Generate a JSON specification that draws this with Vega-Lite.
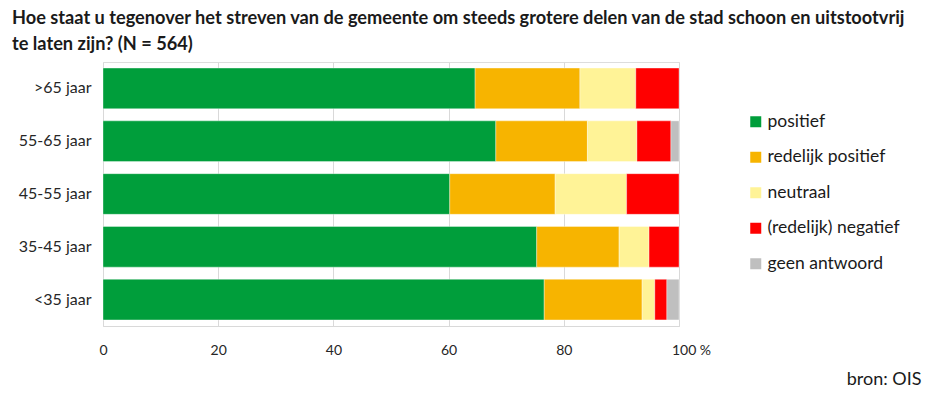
{
  "$schema": "https://vega.github.io/schema/vega-lite/v6.json",
  "width": 576,
  "height": 264,
  "autosize": {"type": "none"},
  "padding": {"left": 103, "top": 62, "right": 261, "bottom": 70},
  "background": "white",
  "title": {
    "text": ["Hoe staat u tegenover het streven van de gemeente om steeds grotere delen van de stad schoon en uitstootvrij", "te laten zijn? (N = 564)"],
    "anchor": "start",
    "frame": "group",
    "dx": -91,
    "offset": 8,
    "font": "Lato",
    "fontSize": 18.2,
    "fontWeight": "bold",
    "color": "#1a1a1a",
    "lineHeight": 26
  },
  "data": {
    "values": [
      {"leeftijd": ">65 jaar", "antwoord": "positief", "pct": 64.6},
      {"leeftijd": ">65 jaar", "antwoord": "redelijk positief", "pct": 18.2},
      {"leeftijd": ">65 jaar", "antwoord": "neutraal", "pct": 9.7},
      {"leeftijd": ">65 jaar", "antwoord": "(redelijk) negatief", "pct": 7.5},
      {"leeftijd": "55-65 jaar", "antwoord": "positief", "pct": 68.2},
      {"leeftijd": "55-65 jaar", "antwoord": "redelijk positief", "pct": 15.9},
      {"leeftijd": "55-65 jaar", "antwoord": "neutraal", "pct": 8.6},
      {"leeftijd": "55-65 jaar", "antwoord": "(redelijk) negatief", "pct": 5.9},
      {"leeftijd": "55-65 jaar", "antwoord": "geen antwoord", "pct": 1.4},
      {"leeftijd": "45-55 jaar", "antwoord": "positief", "pct": 60.2},
      {"leeftijd": "45-55 jaar", "antwoord": "redelijk positief", "pct": 18.3},
      {"leeftijd": "45-55 jaar", "antwoord": "neutraal", "pct": 12.4},
      {"leeftijd": "45-55 jaar", "antwoord": "(redelijk) negatief", "pct": 9.1},
      {"leeftijd": "35-45 jaar", "antwoord": "positief", "pct": 75.3},
      {"leeftijd": "35-45 jaar", "antwoord": "redelijk positief", "pct": 14.3},
      {"leeftijd": "35-45 jaar", "antwoord": "neutraal", "pct": 5.2},
      {"leeftijd": "35-45 jaar", "antwoord": "(redelijk) negatief", "pct": 5.2},
      {"leeftijd": "<35 jaar", "antwoord": "positief", "pct": 76.6},
      {"leeftijd": "<35 jaar", "antwoord": "redelijk positief", "pct": 17.0},
      {"leeftijd": "<35 jaar", "antwoord": "neutraal", "pct": 2.2},
      {"leeftijd": "<35 jaar", "antwoord": "(redelijk) negatief", "pct": 2.1},
      {"leeftijd": "<35 jaar", "antwoord": "geen antwoord", "pct": 2.1}
    ]
  },
  "transform": [
    {"calculate": "indexof(['positief', 'redelijk positief', 'neutraal', '(redelijk) negatief', 'geen antwoord'], datum.antwoord)", "as": "volgorde"}
  ],
  "mark": {"type": "bar", "stroke": "white", "strokeWidth": 0.6, "strokeOpacity": 0.6},
  "encoding": {
    "y": {
      "field": "leeftijd",
      "type": "nominal",
      "sort": [">65 jaar", "55-65 jaar", "45-55 jaar", "35-45 jaar", "<35 jaar"],
      "scale": {"paddingInner": 0.23, "paddingOuter": 0.115},
      "axis": {
        "title": null,
        "domain": false,
        "ticks": false,
        "labelFont": "Lato",
        "labelFontSize": 16,
        "labelColor": "#262626",
        "labelPadding": 12
      }
    },
    "x": {
      "field": "pct",
      "type": "quantitative",
      "stack": "zero",
      "scale": {"domain": [0, 100], "nice": false},
      "axis": {
        "values": [0, 20, 40, 60, 80, 100],
        "labelExpr": "datum.value === 100 ? '100 %' : datum.label",
        "labelOffset": {"condition": {"test": "datum.value === 100", "value": 12}, "value": 0},
        "labelFlush": false,
        "labelFont": "Lato",
        "labelFontSize": 14,
        "labelColor": "#262626",
        "labelPadding": 17,
        "ticks": false,
        "domainColor": "#d9d9d9",
        "grid": true,
        "gridColor": "#d9d9d9",
        "title": "bron: OIS",
        "titleFont": "Lato",
        "titleFontSize": 18,
        "titleFontWeight": "normal",
        "titleColor": "#1a1a1a",
        "titleAnchor": "end",
        "titleAlign": "right",
        "titleBaseline": "middle",
        "titleX": 818,
        "titleY": 53
      }
    },
    "order": {"field": "volgorde", "type": "quantitative"},
    "color": {
      "field": "antwoord",
      "type": "nominal",
      "sort": ["positief", "redelijk positief", "neutraal", "(redelijk) negatief", "geen antwoord"],
      "scale": {
        "domain": ["positief", "redelijk positief", "neutraal", "(redelijk) negatief", "geen antwoord"],
        "range": ["#009e3b", "#f7b400", "#fff397", "#ff0000", "#bfbfbf"]
      },
      "legend": {
        "title": null,
        "orient": "none",
        "legendX": 644,
        "legendY": 51,
        "symbolType": "square",
        "symbolSize": 121,
        "symbolStrokeWidth": 0,
        "labelFont": "Lato",
        "labelFontSize": 17.5,
        "labelColor": "#1a1a1a",
        "labelOffset": 3,
        "rowPadding": 16.5
      }
    }
  }
}
